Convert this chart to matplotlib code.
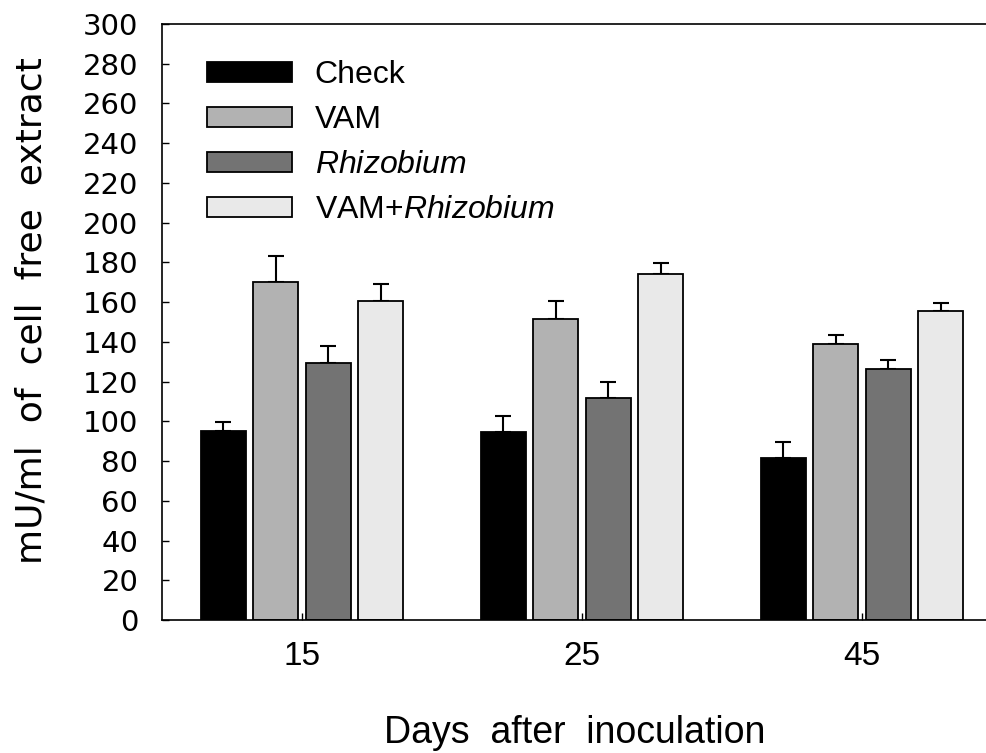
import numpy as np
import matplotlib
matplotlib.use("Agg")
import matplotlib.pyplot as plt

plt.rcParams['font.family'] = ['Liberation Sans', 'DejaVu Sans']
plt.rcParams['mathtext.fontset'] = 'custom'
plt.rcParams['mathtext.rm'] = 'Liberation Sans'
plt.rcParams['mathtext.it'] = 'Liberation Sans:italic'

# data
days = ['15', '25', '45']
treatments = ['Check', 'VAM', r'$\it{Rhizobium}$', r'VAM+$\it{Rhizobium}$']
check = [95.0, 94.5, 81.5]
vam = [170.0, 151.5, 139.0]
rhizobium = [129.5, 112.0, 126.5]
vam_rhizobium = [160.5, 174.0, 155.5]
check_err = [4.5, 8.0, 8.0]
vam_err = [13.0, 9.0, 4.5]
rhizobium_err = [8.5, 8.0, 4.5]
vam_rhizobium_err = [8.5, 5.5, 4.0]

colors = ['#000000', '#b2b2b2', '#737373', '#e9e9e9']

fig = plt.figure(figsize=(9.87, 7.53), dpi=100)
ax = fig.add_axes([0.1641, 0.1766, 0.8359, 0.7915])

x = np.arange(len(days))
width = 0.16
step = 0.1875
series = [check, vam, rhizobium, vam_rhizobium]
errs = [check_err, vam_err, rhizobium_err, vam_rhizobium_err]
for i, (vals, err) in enumerate(zip(series, errs)):
    pos = x + (i - 1.5) * step
    ax.bar(pos, vals, width, color=colors[i], edgecolor='black', linewidth=1.3,
           label=treatments[i], zorder=2)
    ax.errorbar(pos, vals, yerr=[np.zeros(len(err)), err], fmt='none',
                ecolor='black', elinewidth=1.5, capsize=5.5, capthick=1.5, zorder=1)

ax.set_xlim(-0.5, 2.446)
ax.set_ylim(0, 300)
ax.set_yticks(np.arange(0, 301, 20))
ax.set_xticks(x)
ax.set_xticklabels(days, fontsize=24)
for lab in ax.get_yticklabels():
    lab.set_family(['DejaVu Sans'])
    lab.set_fontsize(21)
ax.tick_params(axis='both', direction='in', length=5, width=1)
ax.tick_params(axis='y', pad=17)
ax.tick_params(axis='x', pad=15)
ax.spines['right'].set_visible(False)
for s in ['left', 'bottom', 'top']:
    ax.spines[s].set_linewidth(1.2)

ax.set_ylabel('mU/ml  of  cell  free  extract', fontsize=26,
              family=['DejaVu Sans'])
ax.yaxis.set_label_coords(-0.138, 0.52)
ax.set_xlabel('Days  after  inoculation', fontsize=27, labelpad=31)

ax.legend(loc='upper left', frameon=False, fontsize=23, handlelength=2.66,
          handleheight=0.6, labelspacing=0.47, handletextpad=0.72,
          bbox_to_anchor=(0.027, 0.977), borderaxespad=0.3)

fig.savefig('out.png', dpi=100)
